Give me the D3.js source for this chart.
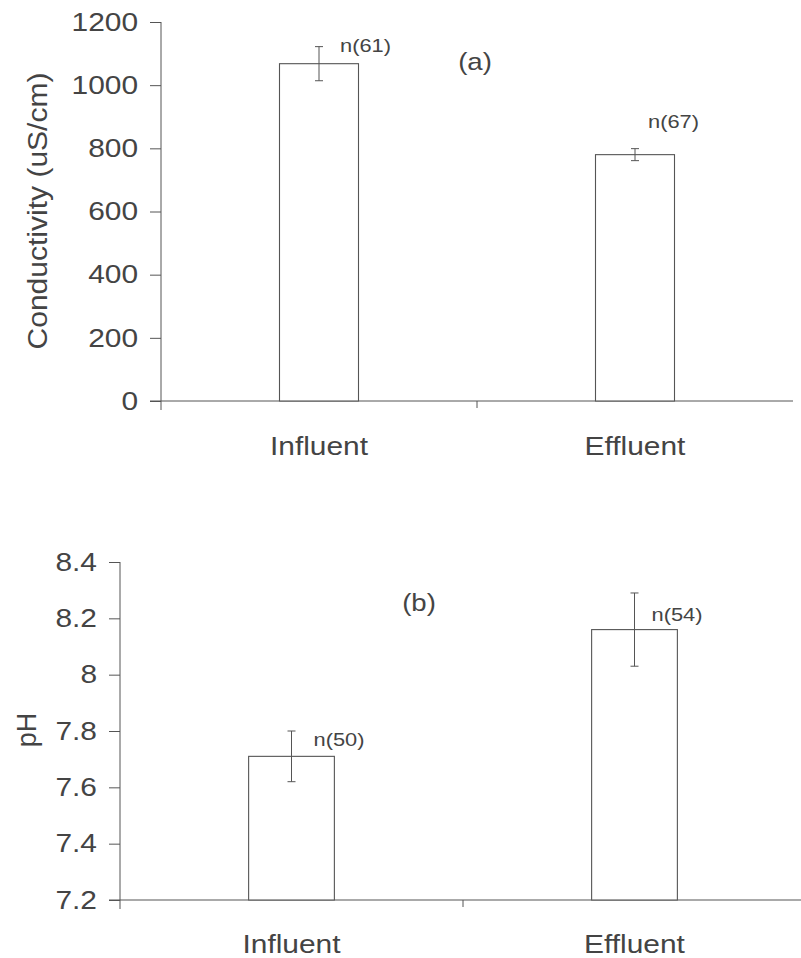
<!DOCTYPE html>
<html>
<head>
<meta charset="utf-8">
<script src="https://cdn.jsdelivr.net/npm/d3@7"></script>
<style>
body { margin: 0; background: #fff; }
text { font-family: "Liberation Sans", Arial, sans-serif; fill: #444; }
</style>
</head>
<body>
<script>
// data
var categories = ["Influent", "Effluent"];

var conductivity = [1068, 780];
var conductivityErr = [54, 19];
var conductivityN = ["n(61)", "n(67)"];
var conductivityTicks = [0, 200, 400, 600, 800, 1000, 1200];

var ph = [7.71, 8.16];
var phErr = [0.09, 0.13];
var phN = ["n(50)", "n(54)"];
var phTicks = [7.2, 7.4, 7.6, 7.8, 8, 8.2, 8.4];

var width = 801;
var height = 958;
var stretch = 1.15; // scan is a bit wider than tall, text looks stretched
var lineColor = "#555";

var svg = d3.select("body")
    .append("svg")
    .attr("width", width)
    .attr("height", height);

function drawPanel(opt) {
    var x = d3.scaleBand()
        .domain(categories)
        .range([opt.left, opt.right]);
    var y = d3.scaleLinear()
        .domain([opt.ticks[0], opt.ticks[opt.ticks.length - 1]])
        .range([opt.bottom, opt.top]);
    var barWidth = x.bandwidth() * 0.25;

    var g = svg.append("g");

    //y axis ticks and labels
    var yAxis = g.append("g")
        .attr("transform", "translate(" + opt.left + ",0)")
        .call(d3.axisLeft(y)
            .tickValues(opt.ticks)
            .tickSize(11)
            .tickPadding(9)
            .tickFormat(d3.format("")));
    yAxis.select(".domain").remove();
    yAxis.selectAll(".tick line").attr("stroke", lineColor);
    yAxis.selectAll(".tick text")
        .attr("fill", "#444")
        .style("font-size", "26px")
        .attr("transform", "scale(" + stretch + ",1)");

    //axis lines
    g.append("line")
        .attr("x1", opt.left).attr("x2", opt.left)
        .attr("y1", opt.top).attr("y2", opt.bottom + 9)
        .attr("stroke", lineColor);
    g.append("line")
        .attr("x1", opt.left - 11).attr("x2", Math.min(opt.right, width))
        .attr("y1", opt.bottom).attr("y2", opt.bottom)
        .attr("stroke", lineColor);
    //separator tick between categories
    g.append("line")
        .attr("x1", x(categories[1])).attr("x2", x(categories[1]))
        .attr("y1", opt.bottom).attr("y2", opt.bottom + 7)
        .attr("stroke", lineColor);

    //bars
    g.selectAll("rect.bar")
        .data(opt.values)
        .enter()
        .append("rect")
        .attr("class", "bar")
        .attr("x", function(d, i) { return x(categories[i]) + x.bandwidth() / 2 - barWidth / 2; })
        .attr("y", function(d) { return y(d); })
        .attr("width", barWidth)
        .attr("height", function(d) { return opt.bottom - y(d); })
        .attr("fill", "#fff")
        .attr("stroke", lineColor)
        .attr("stroke-width", 1.1);

    //error bars
    var err = g.selectAll("g.err")
        .data(opt.values)
        .enter()
        .append("g")
        .attr("class", "err")
        .attr("transform", function(d, i) { return "translate(" + (x(categories[i]) + x.bandwidth() / 2) + ",0)"; });
    err.append("line")
        .attr("y1", function(d, i) { return y(d + opt.errors[i]); })
        .attr("y2", function(d, i) { return y(d - opt.errors[i]); })
        .attr("stroke", lineColor);
    [1, -1].forEach(function(sign) {
        err.append("line")
            .attr("x1", -4).attr("x2", 4)
            .attr("y1", function(d, i) { return y(d + sign * opt.errors[i]); })
            .attr("y2", function(d, i) { return y(d + sign * opt.errors[i]); })
            .attr("stroke", lineColor);
    });

    //n(...) labels
    g.selectAll("text.n")
        .data(opt.nLabels)
        .enter()
        .append("text")
        .attr("class", "n")
        .attr("transform", function(d, i) {
            var px = x(categories[i]) + x.bandwidth() / 2 + opt.nOffsets[i][0];
            var py = y(opt.values[i] + opt.errors[i]) + opt.nOffsets[i][1];
            return "translate(" + px + "," + py + ") scale(" + stretch + ",1)";
        })
        .style("font-size", "19px")
        .text(function(d) { return d; });

    //category labels
    g.selectAll("text.cat")
        .data(categories)
        .enter()
        .append("text")
        .attr("class", "cat")
        .attr("transform", function(d) {
            return "translate(" + (x(d) + x.bandwidth() / 2) + "," + opt.catY + ") scale(" + stretch + ",1)";
        })
        .attr("text-anchor", "middle")
        .style("font-size", "26px")
        .text(function(d) { return d; });

    //panel letter
    g.append("text")
        .attr("transform", "translate(" + opt.letterPos[0] + "," + opt.letterPos[1] + ") scale(" + stretch + ",1)")
        .attr("text-anchor", "middle")
        .style("font-size", "24px")
        .text(opt.letter);

    //y title
    var title = g.append("text")
        .attr("transform", "translate(" + opt.titlePos[0] + "," + opt.titlePos[1] + ") rotate(-90)")
        .attr("text-anchor", "middle")
        .style("font-size", "27px")
        .text(opt.title);
    if (opt.titleLength) {
        title.attr("textLength", opt.titleLength).attr("lengthAdjust", "spacingAndGlyphs");
    }
}

drawPanel({
    values: conductivity,
    errors: conductivityErr,
    nLabels: conductivityN,
    ticks: conductivityTicks,
    left: 161, right: 793, top: 22, bottom: 401,
    nOffsets: [[21, 5], [13, -21]],
    catY: 455,
    letter: "(a)", letterPos: [475, 70],
    title: "Conductivity (uS/cm)", titlePos: [47, 211], titleLength: 277
});

drawPanel({
    values: ph,
    errors: phErr,
    nLabels: phN,
    ticks: phTicks,
    left: 120, right: 806, top: 562, bottom: 900,
    nOffsets: [[22, 15], [17, 28]],
    catY: 953,
    letter: "(b)", letterPos: [419, 611],
    title: "pH", titlePos: [36, 730]
});
</script>
</body>
</html>
